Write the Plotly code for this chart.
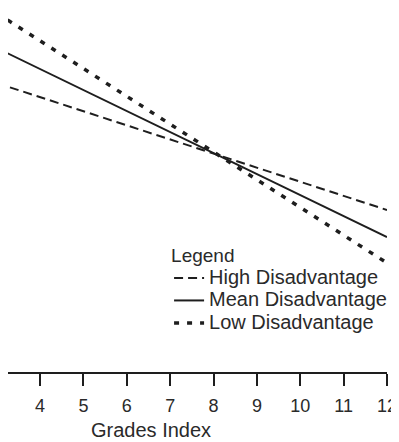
import plotly.graph_objects as go

# Data (y axis not shown in the reference, arbitrary units)
grades = [3, 12]
high_disadvantage = [28.9, 16.2]
mean_disadvantage = [32.4, 13.5]
low_disadvantage = [35.9, 10.9]
tick_values = [3, 4, 5, 6, 7, 8, 9, 10, 11, 12]
tick_labels = ["3", "4", "5", "6", "7", "8", "9", "10", "11", "12"]
series_names = ["High Disadvantage", "Mean Disadvantage", "Low Disadvantage"]

ink = "#1e1e1e"
text_color = "#2a2a2a"
font_family = "Liberation Sans, Arial, sans-serif"


def legend_label(name):
    return '<span style="font-size:20px">' + name + "</span>"


fig = go.Figure()
fig.add_trace(go.Scatter(x=grades, y=high_disadvantage, mode="lines",
                         name=legend_label(series_names[0]),
                         line=dict(color=ink, width=2, dash="9px,5px")))
fig.add_trace(go.Scatter(x=grades, y=mean_disadvantage, mode="lines",
                         name=legend_label(series_names[1]),
                         line=dict(color=ink, width=2)))
fig.add_trace(go.Scatter(x=grades, y=low_disadvantage, mode="lines",
                         name=legend_label(series_names[2]),
                         line=dict(color=ink, width=3.5, dash="5px,8px")))

fig.update_layout(
    width=391, height=434,
    margin=dict(l=0, r=12, t=0, b=70),
    paper_bgcolor="white", plot_bgcolor="white",
    font=dict(family=font_family, color=text_color, size=18),
    xaxis=dict(range=[3.262, 12], tickvals=tick_values, ticktext=tick_labels,
               showline=True, linecolor=ink, linewidth=1.5,
               ticks="outside", ticklen=12, tickwidth=1.5, tickcolor=ink,
               ticklabelstandoff=5,
               showgrid=False, zeroline=False,
               tickfont=dict(size=18, family=font_family, color=text_color)),
    yaxis=dict(range=[0, 36.4], visible=False, showgrid=False, zeroline=False),
    legend=dict(title=dict(text="Legend",
                           font=dict(size=19, family=font_family, color=text_color)),
                font=dict(size=15, family=font_family, color=text_color),
                x=0.425, xanchor="left", y=0.3709, yanchor="top",
                bgcolor="rgba(0,0,0,0)", borderwidth=0),
    showlegend=True,
)

fig.add_annotation(text="Grades Index", xref="paper", yref="paper",
                   x=142.5 / 379, y=(364 - 434) / 364, xanchor="center",
                   yanchor="bottom", showarrow=False, borderpad=0,
                   font=dict(size=20, family=font_family, color=text_color))

fig.write_html("out.html")
